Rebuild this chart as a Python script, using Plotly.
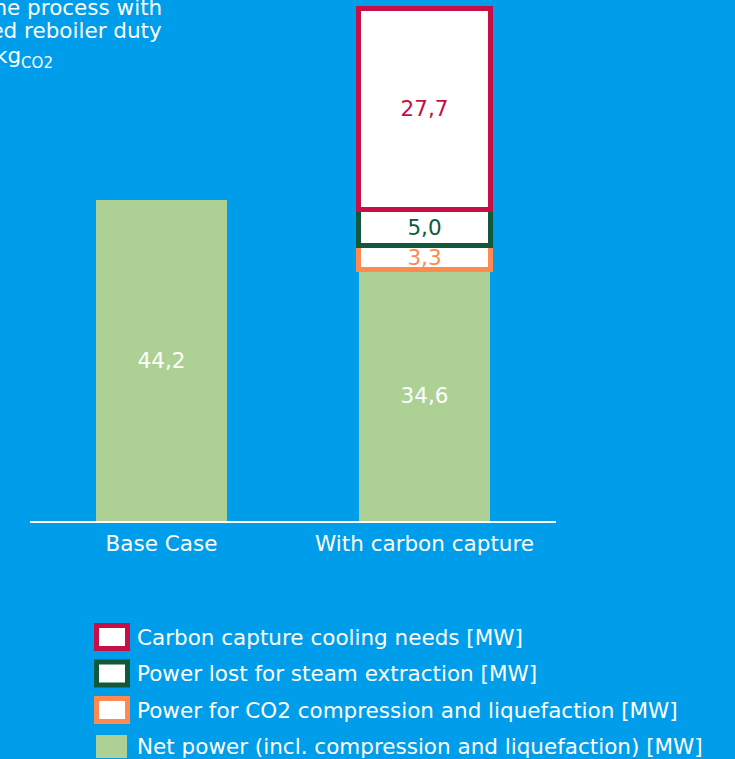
import plotly.graph_objects as go

categories = ["Base Case", "With carbon capture"]
net_power = [44.2, 34.6]
co2_compression = [None, 3.3]
steam_loss = [None, 5.0]
cooling_needs = [None, 27.7]

names = [
    "Net power (incl. compression and liquefaction) [MW]",
    "Power for CO2 compression and liquefaction [MW]",
    "Power lost for steam extraction [MW]",
    "Carbon capture cooling needs [MW]",
]

BG = "#009DEA"
GREEN = "#ADD194"
ORANGE = "#FF8A50"
DKGREEN = "#12593C"
RED = "#C60F45"
FONT = "DejaVu Sans"
FS = 21.5
W, H = 735, 759

fig = go.Figure()
series = [
    (net_power, GREEN, 0, GREEN, "white"),
    (co2_compression, "white", 5, ORANGE, ORANGE),
    (steam_loss, "white", 5, DKGREEN, DKGREEN),
    (cooling_needs, "white", 5, RED, RED),
]
for i, (vals, fill, lw, lc, tc) in enumerate(series):
    fig.add_trace(go.Bar(
        x=categories, y=vals, name=names[i], showlegend=False,
        marker=dict(color=fill, line=dict(width=lw, color=lc)),
        width=0.5,
        texttemplate="%{y:.1f}", textposition="inside", insidetextanchor="middle",
        textangle=0, textfont=dict(color=tc, size=FS, family=FONT),
    ))

fig.update_layout(
    width=W, height=H,
    margin=dict(l=0, r=0, t=0, b=0),
    paper_bgcolor=BG, plot_bgcolor=BG,
    barmode="stack", separators=",.",
    font=dict(family=FONT, color="white", size=FS),
    uniformtext=dict(minsize=FS, mode="show"),
    showlegend=False,
    xaxis=dict(domain=[30 / W, 556 / W], showline=True, linecolor="white",
               linewidth=2, ticks="", showgrid=False, ticklabelstandoff=2,
               tickfont=dict(size=FS, color="white")),
    yaxis=dict(domain=[238 / H, 1], visible=False, range=[0, 71.74], showgrid=False),
)

# legend (top to bottom: reverse stacking order)
rows = [637, 673.5, 710, 746.5]
for k, i in enumerate([3, 2, 1, 0]):
    _, fill, lw, lc, _ = series[i]
    cy = rows[k]
    if lw > 0:
        x0, x1, y0, y1 = 96.5, 127.5, cy - 11.5, cy + 11.5
        line = dict(color=lc, width=5)
    else:
        x0, x1, y0, y1 = 96, 127, cy - 11.5, cy + 11.5
        line = dict(width=0)
    fig.add_shape(type="rect", xref="paper", yref="paper",
                  x0=x0 / W, x1=x1 / W, y0=1 - y1 / H, y1=1 - y0 / H,
                  fillcolor=fill, line=line)
    fig.add_annotation(text=names[i], xref="paper", yref="paper",
                       x=135 / W, y=1 - cy / H, xanchor="left", yanchor="middle",
                       showarrow=False, font=dict(size=FS, color="white", family=FONT))

lines = [
    ("the process with", 164, 8),
    ("estimated reboiler duty", 164, 31),
    ("kg<sub>CO2</sub>", 55, 57),
]
for txt, px, py in lines:
    fig.add_annotation(
        text=txt, xref="paper", yref="paper",
        x=px / W, y=1 - py / H,
        xanchor="right", yanchor="middle", showarrow=False,
        font=dict(size=FS, color="white", family=FONT),
    )

fig.write_html("out.html")
